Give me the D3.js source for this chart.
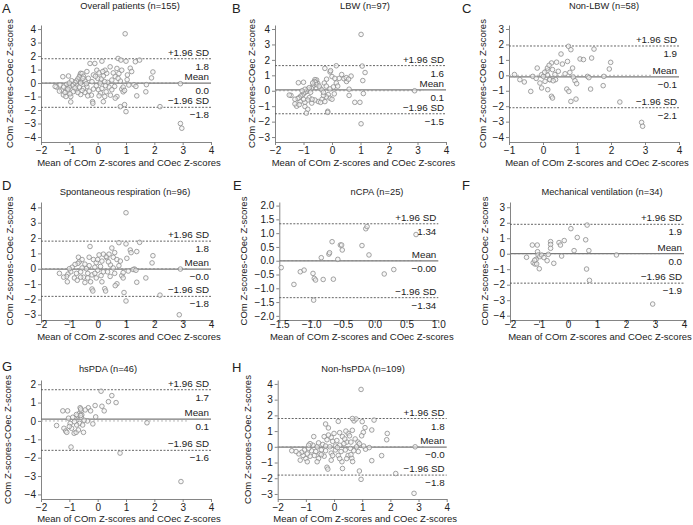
<!DOCTYPE html>
<html><head><meta charset="utf-8">
<script src="https://cdn.jsdelivr.net/npm/d3@7"></script>
<style>
body{margin:0;background:#fff}
svg{display:block}
text{font-family:"Liberation Sans",Arial,Helvetica,sans-serif;fill:#222}
</style>
</head><body>
<svg id="chart" width="693" height="525"></svg>
<script>
// ---------------- DATA ----------------
const panelLetters = ["A","B","C","D","E","F","G","H"];
const panelTitles = ["Overall patients (n=155)","LBW (n=97)","Non-LBW (n=58)","Spontaneous respiration (n=96)","nCPA (n=25)","Mechanical ventilation (n=34)","hsPDA (n=46)","Non-hsPDA (n=109)"];
const meanDiff = [0.0, 0.06, -0.1, -0.02, -0.002, 0.0, 0.1, -0.02];
const upperLoA = [1.8, 1.63, 1.9, 1.8, 1.34, 1.9, 1.7, 1.8];
const lowerLoA = [-1.8, -1.49, -2.1, -1.8, -1.34, -1.9, -1.6, -1.8];
const labelDecimals = [1,1,1,1,2,1,1,1];
const xTickLabels = [
  [-2,-1,0,1,2,3,4],[-2,-1,0,1,2,3,4],[-1,0,1,2,3,4],
  [-2,-1,0,1,2,3,4],[-1.5,-1.0,-0.5,0.0,0.5,1.0],[-2,-1,0,1,2,3,4],
  [-2,-1,0,1,2,3,4],[-2,-1,0,1,2,3,4]];
const yTickLabels = [
  [-4,-3,-2,-1,0,1,2,3,4],[-3,-2,-1,0,1,2,3,4],[-4,-3,-2,-1,0,1,2,3],
  [-3,-2,-1,0,1,2,3,4],[-2.0,-1.5,-1.0,-0.5,0.0,0.5,1.0,1.5,2.0],[-4,-3,-2,-1,0,1,2,3],
  [-4,-3,-2,-1,0,1,2],[-3,-2,-1,0,1,2,3,4]];
const xAxisLabel = "Mean of COm Z-scores and COec Z-scores";
const yAxisLabel = "COm Z-scores-COec Z-scores";

const pointsA = [[0.97,3.65],[2.92,-3.0],[2.97,-3.35],[2.92,-0.05],[2.2,-1.75],[1.0,-2.12],[0.95,-1.6],[0.8,-1.75],[1.95,0.82],[1.9,0.38],[1.7,-0.65],[1.72,-0.12],[1.38,-0.95],[1.48,1.7],[1.33,1.58],[1.15,1.1],[1.2,0.85],[1.05,0.6],[1.04,0.25],[1.1,-0.15],[1.28,-0.12],[1.35,-0.25],[1.0,1.62],[0.72,1.82],[0.82,1.7],[0.15,1.62],
[0.85,-0.45],[0.9,-0.65],[0.68,-1.0],[0.62,-1.12],[0.45,-0.9],[0.32,0.72],[0.5,0.22],[0.68,1.08],[0.62,0.48],[0.44,1.2],[0.26,0.95],[0.55,0.75],[0.75,0.7],[0.8,0.15],[0.9,-0.3],[0.95,-0.55],[0.6,-0.25],[0.4,-0.3],[0.72,0.35],[0.35,0.05],[0.5,-0.5],[0.85,0.95],[0.3,-0.65],[0.2,-1.38],[0.25,-1.0],
[0.2,0.52],[0.09,0.0],[0.03,-0.5],[0.15,-0.4],[-0.03,0.95],[-0.1,1.45],[-0.15,0.6],[-0.2,0.1],[-0.27,1.45],[0.05,0.75],[0.12,0.3],[0.18,0.85],[0.0,0.35],[-0.05,-0.2],[0.1,-0.75],[-0.15,-0.45],[-0.22,-0.9],[-0.18,-1.38],[-0.17,-1.5],[0.05,-0.95],[0.25,0.1],[-0.08,0.5],[0.28,-0.2],
[-0.38,0.85],[-0.33,0.35],[-0.38,-0.27],[-0.5,-0.4],[-0.56,0.22],[-0.62,0.6],[-0.6,0.72],[-0.55,0.7],[-0.65,0.45],[-0.68,0.1],[-0.74,-0.15],[-0.76,-0.52],[-0.86,-0.64],[-0.95,-1.0],[-0.95,-1.4],[-0.45,-0.7],[-0.55,-0.55],[-0.65,-0.3],[-0.7,0.3],[-0.75,0.15],[-0.8,0.05],[-0.85,-0.1],[-0.9,-0.2],[-0.92,0.17],[-0.5,0.5],[-0.45,0.15],[-0.4,-0.05],[-0.3,-0.6],[-0.35,-0.95],[-0.6,-0.85],[-0.7,-0.7],[-0.8,-0.35],[-0.6,0.0],[-0.52,0.35],
[-1.03,-0.15],[-1.09,-0.4],[-1.21,-0.88],[-1.27,-0.52],[-1.33,-0.15],[-1.45,-0.3],[-1.23,0.47],[-1.03,0.52],[-1.0,-0.3],[-1.05,-0.6],[-1.15,-0.7],[-1.1,-0.1],[-1.0,0.0],[-1.2,-0.3],[-1.35,-0.6],[-1.5,-0.25],[-1.12,-1.0],[-0.98,-0.8],[-1.05,-0.45]];

const pointsB = [[1.02,3.65],[1.02,-2.14],[2.9,0.0],[1.16,1.18],[1.06,1.6],[1.08,0.66],[1.1,-0.18],[0.98,-0.75],[0.8,-0.75],[0.6,0.1],[0.6,-0.3],[0.15,1.62],
[0.51,0.6],[0.42,0.78],[0.34,1.05],[0.67,0.95],[0.5,0.85],[0.58,0.75],[0.25,0.8],[-0.07,1.22],[-0.05,1.3],[0.0,0.92],[0.1,0.8],[-0.25,1.45],[-0.19,0.75],[-0.27,0.5],[-0.2,0.3],[-0.07,0.12],[0.05,0.25],[0.15,0.5],[-0.13,-0.25],[-0.07,-0.48],[-0.2,-0.4],[0.08,-0.2],[-0.15,-1.33],[-0.15,-1.4],[0.0,-0.55],[0.2,0.3],
[-0.42,0.17],[-0.5,0.48],[-0.54,0.7],[-0.6,0.72],[-0.62,0.6],[-0.58,0.55],[-0.55,0.4],[-0.65,0.35],[-0.68,0.25],[-0.72,0.15],[-0.78,0.05],[-0.85,0.1],[-0.9,-0.05],[-0.95,-0.1],[-1.0,-0.2],[-1.05,-0.3],[-1.1,-0.35],[-1.15,-0.45],[-0.75,-0.1],[-0.8,0.2],[-0.68,0.5],[-0.45,0.3],
[-0.48,-0.7],[-0.6,-0.6],[-0.71,-0.8],[-0.8,-0.45],[-0.7,-0.55],[-0.85,-0.6],[-0.95,-0.75],[-1.0,-0.55],[-1.12,-0.7],[-1.2,-0.5],[-1.24,-1.0],[-1.3,-0.85],[-1.15,-0.9],[-0.95,-1.02],[-0.85,-1.2],[-0.9,-1.45],[-1.44,-0.3],[-1.5,-0.28],[-1.3,-0.55],[-0.35,-0.55],[-0.3,-0.3],[-0.4,-0.75],[-0.25,-0.7],
[-1.18,0.52],[-1.0,0.55],[-0.95,0.1],[-1.05,0.0],[-0.35,0.05],[-0.3,-0.1]];

const pointsC = [[-0.84,0.05],[-0.68,-0.28],[-0.55,-0.43],[-0.36,-1.04],[-0.17,0.47],[-0.04,-0.82],[-0.04,0.04],[0.01,-0.07],[0.13,0.02],[0.14,-0.93],[0.12,0.3],[0.2,-0.28],[0.25,0.8],[0.28,0.37],[0.25,-1.36],[0.28,-1.47],[0.37,-0.28],[0.35,0.05],[0.45,0.26],[0.53,1.38],[0.57,0.73],[0.7,-0.89],[0.72,0.9],[0.76,-1.04],[0.79,0.19],[0.75,1.88],[0.82,1.66],[0.82,-1.69],[0.87,0.47],[0.89,-0.11],[0.94,-0.35],[0.99,-0.54],[0.97,-1.54],[1.09,1.06],[1.19,1.02],[1.31,-0.07],[1.35,-0.15],[1.4,-0.89],[1.43,1.12],[1.5,1.7],[1.77,-0.67],[1.79,-0.07],[1.95,0.41],[1.99,0.84],[2.26,-1.73],[2.9,-3.05],[2.93,-3.3],[-0.3,-0.07],[-0.09,-0.5],[0.06,-0.39],[0.2,-0.28],[0.13,0.47],[0.18,0.65],[-0.2,-0.2],[0.3,-0.35],[0.65,0.1],[0.4,0.85],[0.05,0.2]];

const pointsD = [[1.0,3.65],[2.92,-0.02],[2.88,-3.0],[2.2,-1.72],[1.0,-2.1],[0.93,-1.55],[1.95,0.85],[1.92,0.38],[1.7,-0.6],[1.38,-0.88],[1.48,1.72],[0.75,1.7],[1.0,1.62],[1.15,1.22],[1.18,1.05],[1.03,0.68],[1.3,-0.02],[1.25,-0.05],[1.38,1.12],[1.35,-0.1],[1.08,-0.15],
[0.85,-0.45],[0.9,-0.6],[0.68,-0.98],[0.62,-1.1],[0.44,-0.5],[0.5,1.35],[0.32,0.72],[0.55,0.75],[0.68,0.6],[0.75,0.2],[0.9,-0.25],[0.6,-0.3],[0.45,0.25],[0.3,0.8],[0.38,0.45],[0.2,0.95],[0.25,-1.3],[0.28,-1.45],[0.15,0.5],[0.05,0.9],[0.1,0.15],[0.0,-0.1],[0.12,-0.45],[-0.05,-0.6],[0.2,-0.2],[0.35,-0.2],[0.55,0.05],[0.8,0.5],
[-0.2,-1.32],[-0.17,-1.45],[-0.27,1.45],[-0.15,0.6],[-0.1,0.1],[-0.2,-0.4],[-0.05,0.4],[-0.3,0.2],[-0.25,-0.85],[-0.35,-0.3],[-0.4,0.0],[-0.45,0.3],[-0.5,-0.55],[-0.55,0.05],[-0.6,-0.2],[-0.65,0.45],[-0.68,0.75],[-0.7,0.35],[-0.75,-0.3],[-0.8,0.28],[-0.82,-0.6],[-0.9,0.1],[-0.95,-0.2],[-1.0,0.0],[-1.05,-0.35],[-1.1,-0.5],[-1.2,-0.55],[-1.35,-0.3],[-1.07,-0.85],[-0.72,-0.75],[-0.6,-0.55],[-0.45,-0.9],[-0.35,-0.6],[-0.55,0.6],[-0.3,0.75],[0.0,0.6],[0.4,0.95],[0.6,1.05],[-0.1,-0.3],[0.15,-0.85]];

const pointsE = [[-1.47,-0.25],[-1.27,-0.86],[-1.17,-0.4],[-1.11,-0.34],[-0.97,-0.46],[-0.95,-0.64],[-0.93,-0.7],[-0.96,-1.43],[-0.81,-0.68],[-0.84,0.11],[-0.72,0.24],[-0.71,0.29],[-0.67,0.69],[-0.65,-0.67],[-0.58,0.05],[-0.54,0.57],[-0.52,0.57],[-0.51,0.39],[-0.2,0.55],[-0.09,0.21],[-0.14,1.16],[-0.12,1.24],[0.15,-0.48],[0.3,-0.32],[0.65,0.95]];

const pointsF = [[-1.43,-0.23],[-1.23,0.56],[-1.06,0.56],[-1.2,-0.58],[-1.14,-0.66],[-1.1,-0.36],[-1.05,0.13],[-1.03,-0.08],[-1.08,-0.66],[-0.97,-0.19],[-0.99,-0.97],[-0.91,-0.08],[-0.83,-0.25],[-0.72,-0.45],[-0.68,-0.04],[-0.6,0.78],[-0.6,0.6],[-0.6,0.35],[-0.49,-0.62],[-0.31,0.72],[-0.26,0.56],[-0.22,-0.15],[-0.13,0.85],[0.1,1.62],[0.21,0.2],[0.32,1.05],[0.61,0.9],[0.64,-0.99],[0.66,1.85],[0.72,0.2],[0.74,-1.72],[1.67,-0.08],[2.92,-3.25],[-1.15,-0.42]];

const pointsG = [[-1.45,-0.25],[-1.23,0.55],[-1.06,0.55],[-1.19,-0.4],[-1.13,-0.55],[-1.09,-0.62],[-1.03,0.15],[-0.97,-0.13],[-0.94,-1.42],[-0.92,-0.4],[-0.83,-0.67],[-0.76,-0.62],[-0.88,0.2],[-0.68,-0.49],[-0.64,-0.13],[-0.71,0.29],[-0.64,0.42],[-0.62,0.72],[-0.58,0.55],[-0.56,0.33],[-0.53,-0.22],[-0.5,-0.62],[-0.58,0.18],[-0.36,0.0],[-0.33,0.72],[-0.25,0.55],[-0.17,-0.16],[-0.09,0.84],[-0.07,0.22],[0.12,1.62],[0.15,0.8],[0.23,0.55],[0.38,1.05],[0.5,1.38],[0.65,1.0],[0.79,-1.75],[1.74,-0.1],[2.94,-3.3],[-0.44,0.6],[-0.74,-0.22],[-0.48,0.04],[-0.82,-0.04],[-0.6,0.65],[-1.0,-0.3],[-0.6,0.3],[-0.75,0.35]];

const pointsH = [[0.96,3.65],[0.96,-2.07],[2.84,-2.96],[2.88,0.0],[2.19,-1.7],[1.89,0.85],[1.87,0.45],[1.69,-0.56],[1.34,-0.88],[1.42,1.7],[1.34,1.07],[1.1,1.22],[1.04,0.92],[0.98,0.7],[0.9,-1.54],[0.71,1.65],[0.78,1.77],[0.65,1.8],[0.8,0.0],[0.86,-0.3],[0.63,-0.73],[0.66,-0.94],[1.12,-0.15],[1.25,-0.05],[1.0,1.6],[0.15,1.62],
[0.5,0.85],[0.55,0.7],[0.45,0.3],[0.4,-0.2],[0.5,-0.55],[0.3,0.65],[0.35,0.2],[0.25,-0.3],[0.2,0.9],[0.1,0.4],[0.05,-0.2],[0.15,-0.55],[0.28,-0.95],[0.3,-1.38],[0.6,0.3],[0.7,-0.25],[0.75,0.5],[0.58,-0.1],[0.85,0.3],[0.42,1.0],[0.0,0.85],[-0.05,0.35],[-0.1,-0.4],[-0.25,-1.3],[-0.22,-1.42],[-0.3,1.45],[-0.2,1.2],[-0.25,0.45],[-0.15,0.0],[-0.1,-0.85],[-0.3,-0.25],[-0.35,-0.6],[-0.4,0.15],[-0.45,-0.2],[-0.5,-0.45],[-0.55,-0.75],[-0.6,0.0],[-0.65,-0.3],[-0.7,-0.55],[-0.75,0.1],[-0.72,0.65],[-0.8,-0.25],[-0.85,0.2],[-0.85,-0.6],[-0.9,-0.1],[-0.95,-0.45],[-1.0,-0.75],[-1.05,-0.2],[-1.1,-0.55],[-1.15,-0.35],[-1.2,-0.85],[-1.25,-0.45],[-1.35,-0.3],[-1.5,-0.25],[-0.95,-0.95],[-0.6,-0.95],[-0.45,-0.5],[-0.35,0.65],[-0.1,0.6],[0.05,0.05],[0.2,0.1],[0.38,0.5],[0.12,-0.05],[0.6,-0.5],[0.45,-0.75],[-0.3,0.05],[-0.05,-0.55],[0.2,-0.75],[0.65,1.05],[0.9,0.2],[1.05,0.05],[-0.55,0.25],[-0.9,0.1],[-0.2,0.75]];

const panelPoints = [pointsA,pointsB,pointsC,pointsD,pointsE,pointsF,pointsG,pointsH];

// ---------------- LAYOUT ----------------
const layout = [
  {xd:[-2,4], xr:[41,211],    yd:[-4.37,4.3], yr:[142,25],  letter:[2,13],   title:[130,9],   ylab:13,  tickBase:154, labBase:166},
  {xd:[-2,4], xr:[275,446],   yd:[-3.32,4.26],yr:[142,25],  letter:[232,13], title:[365,9],   ylab:255, tickBase:154, labBase:166},
  {xd:[-1,4], xr:[509,679],   yd:[-4.32,3.26],yr:[142,25],  letter:[462,13], title:[604,9],   ylab:486, tickBase:154, labBase:166},
  {xd:[-2,4], xr:[41,211],    yd:[-3.34,4.35],yr:[320,202], letter:[2,190],  title:[125,195], ylab:13,  tickBase:328, labBase:340},
  {xd:[-1.5,1.0], xr:[279.3,438.3], yd:[-2.15,2.13], yr:[320,202], letter:[233,190], title:[377,195], ylab:247, tickBase:328, labBase:340},
  {xd:[-2,4], xr:[510,684],   yd:[-4.28,3.34],yr:[320,202], letter:[462,190],title:[602,195], ylab:488, tickBase:328, labBase:340},
  {xd:[-2,4], xr:[41,211],    yd:[-4.25,2.23],yr:[499,380], letter:[2,371],  title:[108,372], ylab:11,  tickBase:511, labBase:522},
  {xd:[-2,4], xr:[277.7,446.7], yd:[-3.32,4.25], yr:[499,380], letter:[232,372], title:[363,372], ylab:251, tickBase:511, labBase:522}
];

const svg = d3.select("#chart");
const fmtTick = (v, d) => (v < 0 ? "\u2212" : "") + Math.abs(v).toFixed(d);

panelPoints.forEach((pts, i) => {
  const L = layout[i];
  const g = svg.append("g");
  const x = d3.scaleLinear().domain(L.xd).range(L.xr);
  const y = d3.scaleLinear().domain(L.yd).range(L.yr);
  const dec = labelDecimals[i];
  const tickDec = i === 4 ? 1 : 0;

  // axes
  const yAxis = d3.axisLeft(y).tickValues(yTickLabels[i]).tickSize(3).tickSizeOuter(0).tickPadding(2)
    .tickFormat(v => fmtTick(v, tickDec));
  const ya = g.append("g").attr("transform", `translate(${L.xr[0]},0)`).call(yAxis);
  const xAxis = d3.axisBottom(x).tickValues(xTickLabels[i]).tickSize(3).tickSizeOuter(0).tickPadding(2)
    .tickFormat(v => fmtTick(v, tickDec));
  const xa = g.append("g").attr("transform", `translate(0,${L.yr[0]})`).call(xAxis);
  [ya, xa].forEach(a => {
    a.select(".domain").attr("stroke", "#777").attr("stroke-width", 0.9);
    a.selectAll(".tick line").attr("stroke", "#777").attr("stroke-width", 0.9);
    a.selectAll(".tick text").attr("font-size", 10).attr("fill", "#222")
      .style("font-family", '"Liberation Sans",Arial,sans-serif');
  });
  xa.selectAll(".tick text").attr("dy", null).attr("y", L.tickBase - L.yr[0]);

  // zero reference
  g.append("line").attr("x1", L.xr[0]).attr("x2", x(Math.min(3.2, L.xd[1] - 0.25)))
    .attr("y1", y(0)).attr("y2", y(0)).attr("stroke", "#b0b0b0").attr("stroke-width", 0.9)
    .attr("stroke-dasharray", "2,2");

  // limit lines
  const xEnd = L.xr[1];
  [upperLoA[i], lowerLoA[i]].forEach(v => {
    g.append("line").attr("x1", L.xr[0]).attr("x2", xEnd).attr("y1", y(v)).attr("y2", y(v))
      .attr("stroke", "#555").attr("stroke-width", 0.9).attr("stroke-dasharray", "2,1.5");
  });
  g.append("line").attr("x1", L.xr[0]).attr("x2", xEnd).attr("y1", y(meanDiff[i])).attr("y2", y(meanDiff[i]))
    .attr("stroke", "#7a7a7a").attr("stroke-width", 1.3);

  // points
  g.append("g").selectAll("circle").data(pts).join("circle")
    .attr("cx", d => x(d[0])).attr("cy", d => y(d[1])).attr("r", 2.3)
    .attr("fill", "#f4f4f4").attr("fill-opacity", 0.6).attr("stroke", "#8c8c8c").attr("stroke-width", 0.8);

  // line labels
  const lx = xEnd - 2;
  const lab = (txt, yy) => g.append("text").attr("x", lx).attr("y", yy).attr("text-anchor", "end")
    .attr("font-size", 9.8).text(txt);
  lab("+1.96 SD", y(upperLoA[i]) - 3);
  lab(fmtTick(upperLoA[i], dec), y(upperLoA[i]) + 11);
  lab("Mean", y(meanDiff[i]) - 3);
  lab(fmtTick(meanDiff[i], dec), y(meanDiff[i]) + 11);
  lab("\u22121.96 SD", y(lowerLoA[i]) - 3);
  lab(fmtTick(lowerLoA[i], dec), y(lowerLoA[i]) + 11);

  // titles and labels
  g.append("text").attr("x", L.letter[0]).attr("y", L.letter[1]).attr("font-size", 13).text(panelLetters[i]);
  g.append("text").attr("x", L.title[0]).attr("y", L.title[1]).attr("text-anchor", "middle")
    .attr("font-size", 9.3).text(panelTitles[i]);
  g.append("text").attr("x", (L.xr[0] + L.xr[1]) / 2 + 3).attr("y", L.labBase).attr("text-anchor", "middle")
    .attr("font-size", 9.5).text(xAxisLabel);
  const ymid = (L.yr[0] + L.yr[1]) / 2;
  g.append("text").attr("transform", `translate(${L.ylab},${ymid}) rotate(-90)`)
    .attr("text-anchor", "middle").attr("font-size", 9.5).text(yAxisLabel);
});
</script>
</body></html>
